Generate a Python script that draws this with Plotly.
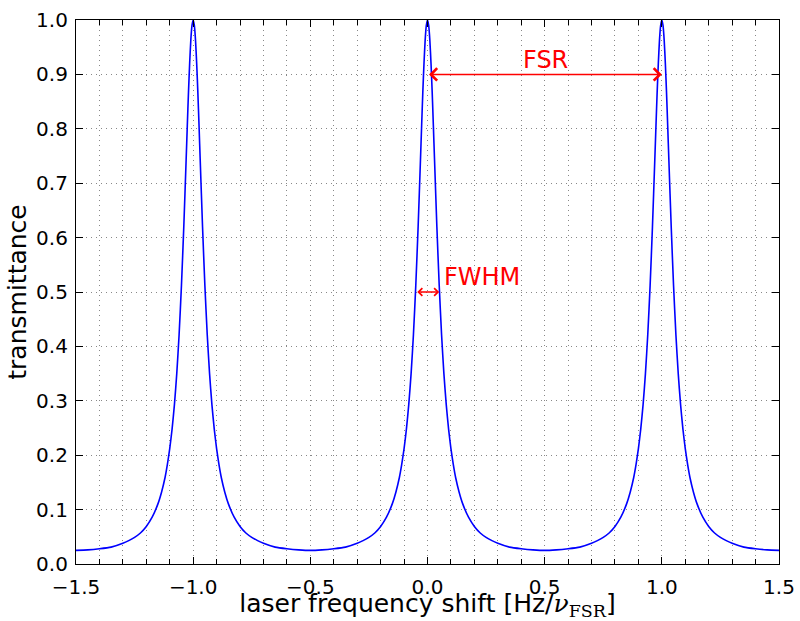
import plotly.graph_objects as go

# Laser frequency shift (units of FSR) and transmittance
freq_shift = [
    -1.5, -1.45, -1.4, -1.35, -1.3, -1.275, -1.25, -1.225, -1.2, -1.175, -1.15, -1.135, -1.12, -1.11,
    -1.1, -1.09, -1.08, -1.07, -1.06, -1.05, -1.04, -1.03, -1.025, -1.02, -1.015, -1.01, -1.005,
    -1.0, -0.995, -0.99, -0.985, -0.98, -0.975, -0.97, -0.96, -0.95, -0.94, -0.93, -0.92, -0.91,
    -0.9, -0.89, -0.88, -0.865, -0.85, -0.825, -0.8, -0.775, -0.75, -0.725, -0.7, -0.65, -0.6, -0.55,
    -0.5, -0.45, -0.4, -0.35, -0.3, -0.275, -0.25, -0.225, -0.2, -0.175, -0.15, -0.135, -0.12, -0.11,
    -0.1, -0.09, -0.08, -0.07, -0.06, -0.05, -0.04, -0.03, -0.025, -0.02, -0.015, -0.01, -0.005,
    0.0, 0.005, 0.01, 0.015, 0.02, 0.025, 0.03, 0.04, 0.05, 0.06, 0.07, 0.08, 0.09,
    0.1, 0.11, 0.12, 0.135, 0.15, 0.175, 0.2, 0.225, 0.25, 0.275, 0.3, 0.35, 0.4, 0.45,
    0.5, 0.55, 0.6, 0.65, 0.7, 0.725, 0.75, 0.775, 0.8, 0.825, 0.85, 0.865, 0.88, 0.89,
    0.9, 0.91, 0.92, 0.93, 0.94, 0.95, 0.96, 0.97, 0.975, 0.98, 0.985, 0.99, 0.995,
    1.0, 1.005, 1.01, 1.015, 1.02, 1.025, 1.03, 1.04, 1.05, 1.06, 1.07, 1.08, 1.09,
    1.1, 1.11, 1.12, 1.135, 1.15, 1.175, 1.2, 1.225, 1.25, 1.275, 1.3, 1.35, 1.4, 1.45, 1.5,
]
transmittance = [
    0.025, 0.026, 0.028, 0.031, 0.038, 0.043, 0.049, 0.057, 0.069, 0.086, 0.111, 0.132, 0.159, 0.183,
    0.212, 0.248, 0.293, 0.350, 0.422, 0.512, 0.620, 0.743, 0.806, 0.867, 0.920, 0.963, 0.990,
    1.000, 0.990, 0.963, 0.920, 0.867, 0.806, 0.743, 0.620, 0.512, 0.422, 0.350, 0.293, 0.248,
    0.212, 0.183, 0.159, 0.132, 0.111, 0.086, 0.069, 0.057, 0.049, 0.043, 0.038, 0.031, 0.028, 0.026,
    0.025, 0.026, 0.028, 0.031, 0.038, 0.043, 0.049, 0.057, 0.069, 0.086, 0.111, 0.132, 0.159, 0.183,
    0.212, 0.248, 0.293, 0.350, 0.422, 0.512, 0.620, 0.743, 0.806, 0.867, 0.920, 0.963, 0.990,
    1.000, 0.990, 0.963, 0.920, 0.867, 0.806, 0.743, 0.620, 0.512, 0.422, 0.350, 0.293, 0.248,
    0.212, 0.183, 0.159, 0.132, 0.111, 0.086, 0.069, 0.057, 0.049, 0.043, 0.038, 0.031, 0.028, 0.026,
    0.025, 0.026, 0.028, 0.031, 0.038, 0.043, 0.049, 0.057, 0.069, 0.086, 0.111, 0.132, 0.159, 0.183,
    0.212, 0.248, 0.293, 0.350, 0.422, 0.512, 0.620, 0.743, 0.806, 0.867, 0.920, 0.963, 0.990,
    1.000, 0.990, 0.963, 0.920, 0.867, 0.806, 0.743, 0.620, 0.512, 0.422, 0.350, 0.293, 0.248,
    0.212, 0.183, 0.159, 0.132, 0.111, 0.086, 0.069, 0.057, 0.049, 0.043, 0.038, 0.031, 0.028, 0.026, 0.025,
]

# Annotation values
fsr_start, fsr_end, fsr_level = 0.0, 1.0, 0.9
fwhm_start, fwhm_end, fwhm_level = -0.05, 0.05, 0.5

x_ticks = [-1.5, -1.0, -0.5, 0.0, 0.5, 1.0, 1.5]
y_ticks = [0.0, 0.1, 0.2, 0.3, 0.4, 0.5, 0.6, 0.7, 0.8, 0.9, 1.0]

FONT = "DejaVu Sans"

fig = go.Figure()
fig.add_trace(go.Scatter(
    x=freq_shift, y=transmittance, mode="lines",
    line=dict(color="#0000ff", width=1.6, shape="spline", smoothing=0.6),
    showlegend=False, hoverinfo="skip",
))

grid_dash = "1px,4px"
axis_common = dict(
    showline=True, linecolor="black", linewidth=1.2, mirror="ticks",
    ticks="inside", tickcolor="black", tickwidth=1, ticklen=7,
    showgrid=True, gridcolor="#888888", gridwidth=1, griddash=grid_dash,
    zeroline=False, tickfont=dict(family=FONT, size=20, color="black"),
    tickformat=".1f",
)

fig.update_xaxes(
    **axis_common, range=[-1.5, 1.5], tickvals=x_ticks,
    minor=dict(dtick=0.1, tick0=0, ticks="inside", ticklen=5, tickcolor="black",
               showgrid=True, gridcolor="#888888", griddash=grid_dash),
    title=dict(text="laser frequency shift [Hz/<span style=\"font-family:'DejaVu Serif'\"><i>ν</i><sub>FSR</sub></span>]",
               font=dict(family=FONT, size=25, color="black"), standoff=0),
    ticklabelstandoff=5,
)
fig.update_yaxes(
    **axis_common, range=[0, 1.0], tickvals=y_ticks,
    title=dict(text="transmittance", font=dict(family=FONT, size=25, color="black"), standoff=2),
    ticklabelstandoff=3,
)

red = "#ff0000"
# FSR double arrow
fig.add_annotation(x=fsr_end, y=fsr_level, ax=fsr_start, ay=fsr_level,
                   xref="x", yref="y", axref="x", ayref="y", text="",
                   showarrow=True, arrowhead=4, startarrowhead=4, arrowside="end+start",
                   arrowsize=1.6, startarrowsize=1.6, arrowwidth=1.5, arrowcolor=red,
                   standoff=0, startstandoff=0)
fig.add_annotation(x=0.4, y=0.927, xref="x", yref="y", text="FSR", showarrow=False,
                   xanchor="left", yanchor="middle",
                   font=dict(family=FONT, size=24, color=red))
# FWHM double arrow
fig.add_annotation(x=fwhm_end, y=fwhm_level, ax=fwhm_start, ay=fwhm_level,
                   xref="x", yref="y", axref="x", ayref="y", text="",
                   showarrow=True, arrowhead=4, startarrowhead=4, arrowside="end+start",
                   arrowsize=1.0, startarrowsize=1.0, arrowwidth=1.5, arrowcolor=red,
                   standoff=0, startstandoff=0)
fig.add_annotation(x=0.06, y=0.527, xref="x", yref="y", text="FWHM", showarrow=False,
                   xanchor="left", yanchor="middle",
                   font=dict(family=FONT, size=24, color=red))

fig.update_layout(
    width=800, height=621,
    margin=dict(l=76, r=21, t=20, b=57, autoexpand=False),
    paper_bgcolor="white", plot_bgcolor="white",
    font=dict(family=FONT, color="black"),
)

fig.write_html("out.html", config={"displayModeBar": False},
               post_script="document.body.style.margin='0';document.body.style.overflow='hidden';")
